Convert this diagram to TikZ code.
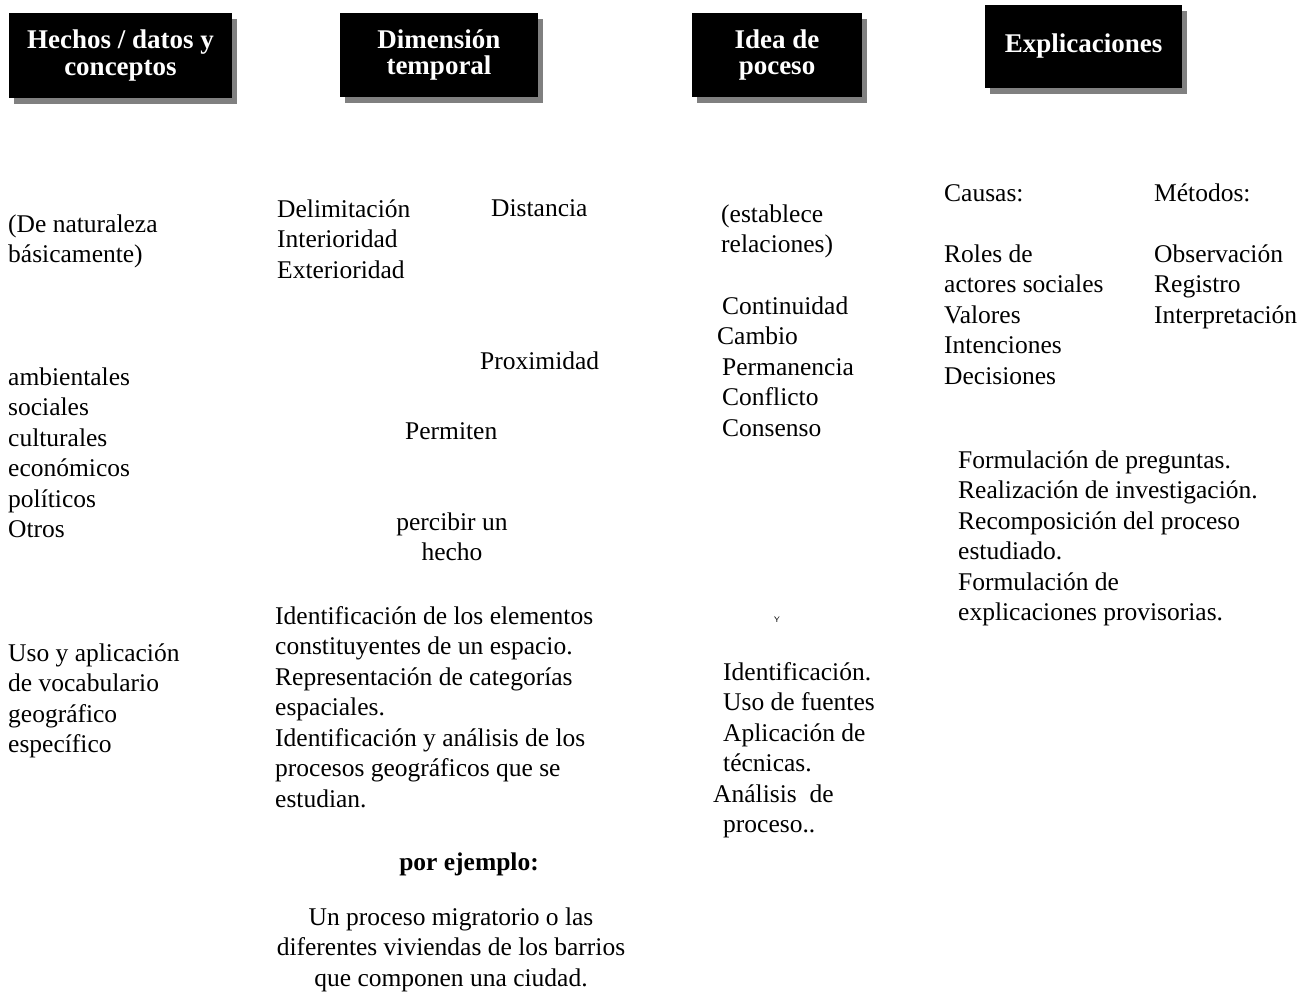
\documentclass[tikz,border=0pt]{standalone}
\usepackage{fontspec}
\setmainfont{Liberation Serif}
\usetikzlibrary{shadows}
\begin{document}
\begin{tikzpicture}[x=1pt,y=-1pt,
  txt/.style={anchor=base west, inner sep=0pt, align=left, font=\fontsize{25.5}{30.5}\selectfont},
  ctxt/.style={anchor=base, inner sep=0pt, align=center, font=\fontsize{25.5}{30.5}\selectfont},
  hdr/.style={fill=black, text=white, inner sep=0pt, align=center,
    font=\bfseries\fontsize{27}{26.5}\selectfont,
    drop shadow={shadow xshift=5pt, shadow yshift=-6pt, fill=black!50, opacity=1}}]
\useasboundingbox (0,0) rectangle (1302,994);
% headers
\node[hdr, minimum width=223pt, minimum height=85pt] (h1) at (120.5,55.5) {Hechos / datos y\\conceptos};
\node[hdr, minimum width=198pt, minimum height=84pt] (h2) at (439,55) {Dimensión\\temporal};
\node[hdr, minimum width=170pt, minimum height=84pt] (h3) at (777,55) {Idea de\\poceso};
\node[hdr, minimum width=197pt, minimum height=83pt] (h4) at (1083.5,46.5) {Explicaciones};
% column 1 (anchor = baseline of last line)
\node[txt] (c1a) at (8,262.5) {(De naturaleza\\básicamente)};
\node[txt] (c1b) at (8,537.5) {ambientales\\sociales\\culturales\\económicos\\políticos\\Otros};
\node[txt] (c1c) at (8,752.5) {Uso y aplicación\\de vocabulario\\geográfico\\específico};
% column 2
\node[txt] (c2a) at (277,278) {Delimitación\\Interioridad\\Exterioridad};
\node[txt] (c2b) at (491,216) {Distancia};
\node[txt] (c2c) at (480,369) {Proximidad};
\node[txt] (c2d) at (405,439) {Permiten};
\node[ctxt] (c2e) at (452,560.5) {percibir un\\hecho};
\node[txt] (c2f) at (275,807) {Identificación de los elementos\\constituyentes de un espacio.\\Representación de categorías\\espaciales.\\Identificación y análisis de los\\procesos geográficos que se\\estudian.};
\node[ctxt, font=\bfseries\fontsize{25.5}{30.5}\selectfont] (c2g) at (469,870) {por ejemplo:};
\node[ctxt] (c2h) at (451,986) {Un proceso migratorio o las\\diferentes viviendas de los barrios\\que componen una ciudad.};
% column 3
\node[txt] (c3a) at (721,252.5) {(establece\\relaciones)};
\node[txt] (c3b) at (722,436) {Continuidad\\\hspace*{-5pt}Cambio\\Permanencia\\Conflicto\\Consenso};
\node[anchor=center, inner sep=0pt, font=\sffamily\fontsize{8}{8}\selectfont] (c3c) at (777,620) {Y};
\node[txt] (c3d) at (723,832.5) {Identificación.\\Uso de fuentes\\Aplicación de\\técnicas.\\\hspace*{-10pt}Análisis\ \ de\\proceso..};
% column 4
\node[txt] (c4a) at (944,201) {Causas:};
\node[txt] (c4b) at (1154,201) {Métodos:};
\node[txt] (c4c) at (944,384) {Roles de\\actores sociales\\Valores\\Intenciones\\Decisiones};
\node[txt] (c4d) at (1154,323) {Observación\\Registro\\Interpretación};
\node[txt] (c4e) at (958,620.5) {Formulación de preguntas.\\Realización de investigación.\\Recomposición del proceso\\estudiado.\\Formulación de\\explicaciones provisorias.};
\end{tikzpicture}
\end{document}
